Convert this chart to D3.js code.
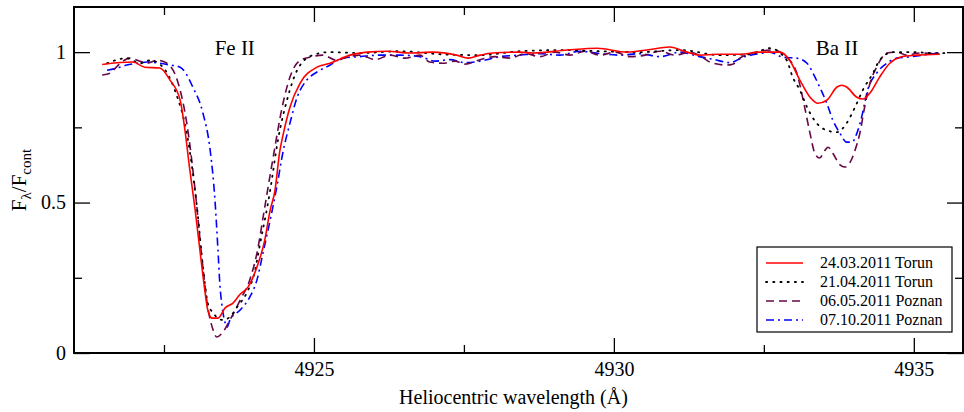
<!DOCTYPE html>
<html>
<head>
<meta charset="utf-8">
<script src="https://cdn.jsdelivr.net/npm/d3@7"></script>
<style>
  body { margin: 0; background: white; }
  svg text { font-family: "Times New Roman", "Liberation Serif", Tinos, "DejaVu Serif", serif; }
</style>
</head>
<body>
<svg id="chart" width="964" height="412"></svg>
<script>
// helper for transforms
var translate = function(x, y) { return "translate(" + x + "," + y + ")"; };
var serif = "'Times New Roman', 'Liberation Serif', serif";

// series names (legend order)
var seriesNames = ["24.03.2011 Torun", "21.04.2011 Torun", "06.05.2011 Poznan", "07.10.2011 Poznan"];

// wavelength (A) and normalised flux
var torun1Wave = [4921.47, 4921.98, 4922.18, 4922.43, 4922.60, 4922.77, 4922.85, 4922.93, 4923.02, 4923.10, 4923.18, 4923.23, 4923.30, 4923.40, 4923.52, 4923.65, 4923.77, 4923.90, 4924.05, 4924.18, 4924.27, 4924.35, 4924.43, 4924.48, 4924.60, 4924.77, 4925.05, 4925.27, 4925.60, 4925.88, 4926.22, 4926.60, 4926.98, 4927.38, 4927.57, 4927.77, 4927.98, 4928.43, 4928.65, 4929.22, 4929.72, 4930.22, 4930.55, 4930.93, 4931.22, 4931.43, 4931.72, 4932.10, 4932.43, 4932.77, 4932.93, 4933.10, 4933.27, 4933.40, 4933.55, 4933.72, 4933.80, 4933.88, 4934.05, 4934.15, 4934.27, 4934.43, 4934.60, 4934.77, 4935.05, 4935.43];
var torun1Flux = [0.959, 0.967, 0.950, 0.947, 0.907, 0.840, 0.740, 0.610, 0.475, 0.340, 0.210, 0.143, 0.116, 0.116, 0.150, 0.166, 0.195, 0.219, 0.286, 0.375, 0.475, 0.540, 0.670, 0.720, 0.817, 0.897, 0.950, 0.963, 0.990, 1.000, 1.003, 0.997, 1.000, 0.990, 0.980, 0.990, 0.997, 1.000, 0.997, 1.007, 1.013, 1.000, 1.007, 1.017, 1.000, 0.990, 0.993, 0.993, 1.000, 1.000, 0.973, 0.907, 0.850, 0.830, 0.840, 0.884, 0.890, 0.884, 0.850, 0.844, 0.864, 0.917, 0.963, 0.983, 0.990, 0.993];

var torun2Wave = [4921.55, 4921.88, 4922.10, 4922.27, 4922.43, 4922.68, 4922.90, 4923.05, 4923.15, 4923.23, 4923.32, 4923.48, 4923.60, 4923.72, 4923.88, 4924.02, 4924.08, 4924.27, 4924.40, 4924.55, 4924.72, 4924.98, 4925.27, 4925.77, 4926.43, 4927.10, 4927.77, 4928.43, 4929.10, 4929.77, 4930.43, 4931.10, 4931.77, 4932.27, 4932.60, 4932.88, 4932.98, 4933.10, 4933.22, 4933.38, 4933.55, 4933.72, 4933.88, 4934.02, 4934.15, 4934.32, 4934.43, 4934.65, 4934.98, 4935.32, 4935.55];
var torun2Flux = [0.963, 0.980, 0.963, 0.973, 0.960, 0.874, 0.708, 0.485, 0.286, 0.166, 0.133, 0.110, 0.120, 0.153, 0.200, 0.276, 0.340, 0.540, 0.708, 0.840, 0.940, 0.990, 1.000, 0.997, 1.003, 0.993, 0.990, 1.003, 1.007, 1.003, 1.000, 1.007, 0.990, 0.993, 1.013, 0.973, 0.917, 0.874, 0.817, 0.764, 0.740, 0.734, 0.764, 0.817, 0.874, 0.930, 0.973, 1.000, 1.000, 0.997, 0.997];

var poznan1Wave = [4921.47, 4921.60, 4921.77, 4921.93, 4922.10, 4922.22, 4922.38, 4922.55, 4922.72, 4922.88, 4923.02, 4923.13, 4923.23, 4923.32, 4923.38, 4923.47, 4923.60, 4923.77, 4923.93, 4924.05, 4924.18, 4924.32, 4924.47, 4924.60, 4924.77, 4924.93, 4925.15, 4925.38, 4925.55, 4925.77, 4926.02, 4926.27, 4926.52, 4926.77, 4926.93, 4927.15, 4927.35, 4927.52, 4927.77, 4928.02, 4928.27, 4928.52, 4928.77, 4929.02, 4929.27, 4929.52, 4929.77, 4930.02, 4930.27, 4930.52, 4930.77, 4931.02, 4931.27, 4931.48, 4931.60, 4931.88, 4931.98, 4932.10, 4932.32, 4932.65, 4932.88, 4933.05, 4933.18, 4933.27, 4933.35, 4933.43, 4933.52, 4933.57, 4933.65, 4933.77, 4933.85, 4933.93, 4934.02, 4934.10, 4934.18, 4934.27, 4934.38, 4934.55, 4934.72, 4934.88, 4935.10, 4935.43];
var poznan1Flux = [0.924, 0.930, 0.963, 0.980, 0.970, 0.963, 0.973, 0.963, 0.907, 0.764, 0.540, 0.320, 0.153, 0.076, 0.053, 0.066, 0.110, 0.176, 0.243, 0.332, 0.485, 0.650, 0.817, 0.917, 0.973, 0.983, 0.990, 0.973, 0.983, 0.990, 0.975, 0.990, 0.980, 0.990, 0.967, 0.963, 0.970, 0.960, 0.975, 0.985, 0.980, 0.995, 0.985, 1.000, 0.990, 1.003, 0.990, 1.000, 0.985, 0.990, 1.003, 0.990, 1.000, 0.983, 0.967, 0.957, 0.960, 0.980, 0.997, 1.007, 0.983, 0.930, 0.817, 0.730, 0.664, 0.648, 0.674, 0.684, 0.664, 0.625, 0.618, 0.631, 0.674, 0.730, 0.817, 0.897, 0.950, 0.997, 1.000, 0.990, 0.997, 0.993];

var poznan2Wave = [4921.55, 4921.72, 4921.88, 4922.05, 4922.22, 4922.43, 4922.60, 4922.77, 4922.98, 4923.15, 4923.27, 4923.35, 4923.40, 4923.43, 4923.47, 4923.52, 4923.55, 4923.60, 4923.77, 4923.93, 4924.05, 4924.15, 4924.27, 4924.38, 4924.48, 4924.60, 4924.72, 4924.88, 4925.05, 4925.27, 4925.48, 4925.77, 4926.10, 4926.43, 4926.77, 4927.02, 4927.27, 4927.52, 4927.77, 4928.10, 4928.43, 4928.77, 4929.10, 4929.43, 4929.77, 4930.10, 4930.43, 4930.77, 4931.10, 4931.43, 4931.68, 4931.93, 4932.18, 4932.43, 4932.60, 4932.82, 4933.05, 4933.22, 4933.32, 4933.43, 4933.55, 4933.65, 4933.77, 4933.88, 4933.97, 4934.05, 4934.13, 4934.23, 4934.38, 4934.55, 4934.72, 4934.88, 4935.15, 4935.43];
var poznan2Flux = [0.940, 0.947, 0.957, 0.963, 0.967, 0.963, 0.957, 0.950, 0.884, 0.797, 0.674, 0.508, 0.342, 0.233, 0.153, 0.100, 0.086, 0.110, 0.143, 0.186, 0.243, 0.332, 0.442, 0.551, 0.664, 0.764, 0.850, 0.907, 0.934, 0.957, 0.980, 0.985, 0.990, 0.990, 0.985, 0.970, 0.975, 0.965, 0.970, 0.985, 0.990, 0.995, 0.990, 1.003, 0.995, 0.990, 0.995, 0.985, 1.000, 0.985, 0.975, 0.965, 0.985, 0.995, 1.000, 0.983, 0.980, 0.963, 0.930, 0.884, 0.830, 0.774, 0.730, 0.701, 0.701, 0.730, 0.784, 0.874, 0.930, 0.963, 0.980, 0.983, 0.990, 0.997];

// axis ticks
var xMajorTicks = [4925, 4930, 4935];
var xMinorTicks = [4922.5, 4927.5, 4932.5];
var yMajorTicks = [0, 0.5, 1];
var yMinorTicks = [0.25, 0.75];
var yTickLabels = ["0", "0.5", "1"];

var lineNames = ["Fe II", "Ba II"];
var lineWaves = [4923.68, 4933.72];

var colors = ["#ff0000", "#000000", "#670748", "#0000ff"];
var dashes = [null, "1.2,6", "8,5", "8,4,2,4"];

var margin = { top: 7, right: 1, bottom: 59, left: 74 };
var svg = d3.select("#chart");
var width = 964 - margin.left - margin.right;
var height = 412 - margin.top - margin.bottom;

var plot = svg.append("g").attr("transform", translate(margin.left, margin.top));

var x = d3.scaleLinear().domain([4921, 4935.82]).range([0, width]);
var y = d3.scaleLinear().domain([0, 1.15]).range([height, 0]);

var series = [
  d3.zip(torun1Wave, torun1Flux),
  d3.zip(torun2Wave, torun2Flux),
  d3.zip(poznan1Wave, poznan1Flux),
  d3.zip(poznan2Wave, poznan2Flux)
];

var line = d3.line()
  .x(function(d) { return x(d[0]); })
  .y(function(d) { return y(d[1]); })
  .curve(d3.curveMonotoneX);

// draw the spectra, last one first so red ends on top
for (var i = series.length - 1; i >= 0; i--) {
  plot.append("path")
    .datum(series[i])
    .attr("fill", "none")
    .attr("stroke", colors[i])
    .attr("stroke-width", i == 1 ? 1.8 : 1.6)
    .attr("stroke-linecap", i == 1 ? "round" : "butt")
    .attr("stroke-dasharray", dashes[i])
    .attr("d", line);
}

// axes, ticks inward on all four sides
function styleAxis(g) {
  g.select(".domain").remove();
  g.selectAll(".tick line").attr("stroke", "#000").attr("stroke-width", 1.3);
  g.selectAll("text").style("font-size", "20px").attr("fill", "#000")
    .style("font-family", serif);
}

plot.append("g").attr("transform", translate(0, height))
  .call(d3.axisBottom(x).tickValues(xMajorTicks).tickSize(-15).tickPadding(9).tickFormat(d3.format("d")))
  .call(styleAxis);
plot.append("g").attr("transform", translate(0, height))
  .call(d3.axisBottom(x).tickValues(xMinorTicks).tickSize(-8).tickFormat(""))
  .call(styleAxis);
plot.append("g")
  .call(d3.axisTop(x).tickValues(xMajorTicks).tickSize(-15).tickFormat(""))
  .call(styleAxis);
plot.append("g")
  .call(d3.axisTop(x).tickValues(xMinorTicks).tickSize(-8).tickFormat(""))
  .call(styleAxis);
plot.append("g")
  .call(d3.axisLeft(y).tickValues(yMajorTicks).tickSize(-16).tickPadding(8)
    .tickFormat(function(d, i) { return yTickLabels[i]; }))
  .call(styleAxis);
plot.append("g")
  .call(d3.axisLeft(y).tickValues(yMinorTicks).tickSize(-8).tickFormat(""))
  .call(styleAxis);
plot.append("g").attr("transform", translate(width, 0))
  .call(d3.axisRight(y).tickValues(yMajorTicks).tickSize(-16).tickFormat(""))
  .call(styleAxis);
plot.append("g").attr("transform", translate(width, 0))
  .call(d3.axisRight(y).tickValues(yMinorTicks).tickSize(-8).tickFormat(""))
  .call(styleAxis);

plot.append("rect")
  .attr("x", 0).attr("y", 0)
  .attr("width", width).attr("height", height)
  .attr("fill", "none")
  .attr("stroke", "#000")
  .attr("stroke-width", 2);

// line labels
plot.selectAll(".linelabel")
  .data(lineNames)
  .enter().append("text")
  .attr("class", "linelabel")
  .attr("x", function(d, i) { return x(lineWaves[i]); })
  .attr("y", 48)
  .attr("text-anchor", "middle")
  .style("font-size", "21px")
  .text(function(d) { return d; });

// axis titles
svg.append("text")
  .attr("x", margin.left + width / 2 - 5)
  .attr("y", 404)
  .attr("text-anchor", "middle")
  .style("font-size", "20px")
  .text("Heliocentric wavelength (\u00C5)");

var ylab = svg.append("text")
  .attr("transform", translate(26, margin.top + height / 2) + " rotate(-90)")
  .attr("text-anchor", "middle")
  .style("font-size", "21px");
ylab.append("tspan").text("F");
ylab.append("tspan").attr("dy", 5).style("font-size", "15px").text("\u03BB");
ylab.append("tspan").attr("dy", -5).text("/F");
ylab.append("tspan").attr("dy", 5).style("font-size", "15px").text("cont");

// legend
var legend = svg.append("g").attr("transform", translate(757, 247));
legend.append("rect")
  .attr("width", 195).attr("height", 85)
  .attr("fill", "white").attr("stroke", "#000").attr("stroke-width", 1.2);

var item = legend.selectAll(".legend")
  .data(seriesNames)
  .enter().append("g")
  .attr("class", "legend")
  .attr("transform", function(d, i) { return translate(0, 16 + i * 19); });

item.append("line")
  .attr("x1", 9).attr("x2", 46)
  .attr("stroke", function(d, i) { return colors[i]; })
  .attr("stroke-width", function(d, i) { return i == 1 ? 1.8 : 1.6; })
  .attr("stroke-linecap", function(d, i) { return i == 1 ? "round" : "butt"; })
  .attr("stroke-dasharray", function(d, i) { return dashes[i]; });

item.append("text")
  .attr("x", 63)
  .attr("dy", "0.33em")
  .style("font-size", "16px")
  .text(function(d) { return d; });
</script>
</body>
</html>
